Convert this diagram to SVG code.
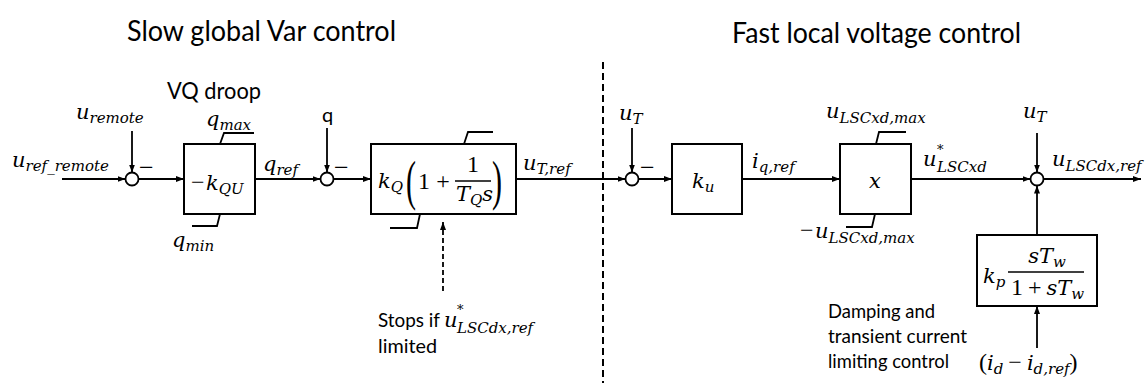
<svg xmlns="http://www.w3.org/2000/svg" width="1147" height="383" viewBox="0 0 1147 383">
<style>
.ln{fill:none;stroke:#000;stroke-width:1.8}
.bx{fill:#fff;stroke:#000;stroke-width:2}
.lim{fill:none;stroke:#000;stroke-width:1.8}
.sj{fill:#fff;stroke:#000;stroke-width:1.8}
.m{font-family:"DejaVu Serif",serif;font-style:italic;font-size:21px;fill:#000}
.s{font-size:15px}
.sup{font-size:13px}
.n{font-family:"Liberation Serif",serif;font-style:normal;font-size:24px;fill:#000}
.mn{font-family:"Liberation Serif",serif;font-size:26px;fill:#000}
.t{font-family:Lato,"Liberation Sans",sans-serif;font-size:20px;fill:#000}
.h{font-family:Lato,"Liberation Sans",sans-serif;font-size:28px;fill:#000}
.par{font-family:"Liberation Serif",serif;font-size:30px;fill:#000}
</style>
<defs>
<marker id="ah" viewBox="0 0 8 6" refX="8" refY="3" markerWidth="8" markerHeight="6" markerUnits="userSpaceOnUse" orient="auto">
<path d="M0,0 L8,3 L0,6 z" fill="#000"/>
</marker>
</defs>

<g id="titles">
<text class="h" x="127" y="41" textLength="269" lengthAdjust="spacingAndGlyphs">Slow global Var control</text>
<text class="h" x="732" y="43" textLength="289" lengthAdjust="spacingAndGlyphs">Fast local voltage control</text>
</g>

<g id="divider">
<line x1="603" y1="62" x2="603" y2="383" stroke="#000" stroke-width="2" stroke-dasharray="7 4"/>
</g>

<g id="connectors">
<line class="ln" x1="62" y1="179" x2="125.5" y2="179" marker-end="url(#ah)"/>
<line class="ln" x1="132" y1="131" x2="132" y2="172.5" marker-end="url(#ah)"/>
<line class="ln" x1="138.5" y1="179" x2="184" y2="179" marker-end="url(#ah)"/>
<line class="ln" x1="255" y1="179" x2="320.5" y2="179" marker-end="url(#ah)"/>
<line class="ln" x1="327" y1="128" x2="327" y2="172.5" marker-end="url(#ah)"/>
<line class="ln" x1="333.5" y1="179" x2="371" y2="179" marker-end="url(#ah)"/>
<line class="ln" x1="516" y1="179" x2="625.5" y2="179" marker-end="url(#ah)"/>
<line class="ln" x1="632" y1="128" x2="632" y2="172.5" marker-end="url(#ah)"/>
<line class="ln" x1="638.5" y1="179" x2="672" y2="179" marker-end="url(#ah)"/>
<line class="ln" x1="742" y1="179" x2="840" y2="179" marker-end="url(#ah)"/>
<line class="ln" x1="911" y1="179" x2="1030.5" y2="179" marker-end="url(#ah)"/>
<line class="ln" x1="1037" y1="133" x2="1037" y2="172.5" marker-end="url(#ah)"/>
<line class="ln" x1="1043.5" y1="179" x2="1141" y2="179" marker-end="url(#ah)"/>
<line class="ln" x1="1037" y1="235" x2="1037" y2="185.5" marker-end="url(#ah)"/>
<line class="ln" x1="1037" y1="348" x2="1037" y2="306" marker-end="url(#ah)"/>
<line class="ln" x1="443" y1="291" x2="443" y2="222" stroke-dasharray="5 3" marker-end="url(#ah)"/>
</g>

<g id="sum1">
<circle class="sj" cx="132" cy="179" r="6.5"/>
<text class="mn" x="139" y="176">−</text>
</g>
<g id="sum2">
<circle class="sj" cx="327" cy="179" r="6.5"/>
<text class="mn" x="334" y="176">−</text>
</g>
<g id="sum3">
<circle class="sj" cx="632" cy="179" r="6.5"/>
<text class="mn" x="640" y="176">−</text>
</g>
<g id="sum4">
<circle class="sj" cx="1037" cy="179" r="6.5"/>
</g>

<g id="signals">
<text class="m" x="12" y="167">u<tspan class="s" dy="4">ref_remote</tspan></text>
<text class="m" x="76" y="119">u<tspan class="s" dy="4">remote</tspan></text>
<text class="m" x="263" y="171">q<tspan class="s" dy="4">ref</tspan></text>
<text class="t" x="322" y="122">q</text>
<text class="m" x="523" y="170">u<tspan class="s" dy="4">T,ref</tspan></text>
<text class="m" x="619" y="120">u<tspan class="s" dy="4">T</tspan></text>
<text class="m" x="752" y="168">i<tspan class="s" dy="4">q,ref</tspan></text>
<text class="m" x="923" y="166">u</text>
<text class="m sup" x="937" y="154">*</text>
<text class="m s" x="937" y="172">LSCxd</text>
<text class="m" x="1023" y="118">u<tspan class="s" dy="4">T</tspan></text>
<text class="m" x="1052" y="166">u<tspan class="s" dy="5">LSCdx,ref</tspan></text>
<text class="m" x="979" y="370"><tspan class="n">(</tspan>i<tspan class="s" dy="4">d</tspan><tspan class="n" dx="5" dy="-4">−</tspan><tspan dx="5">i</tspan><tspan class="s" dy="4">d,ref</tspan><tspan class="n" dy="-4">)</tspan></text>
</g>

<g id="droop">
<text class="t" x="167" y="99" textLength="94" lengthAdjust="spacingAndGlyphs" style="font-size:23px">VQ droop</text>
<rect class="bx" x="184" y="144" width="71" height="70"/>
<polyline class="lim" points="220,144 224,133 254,133"/>
<polyline class="lim" points="192,226 217,226 220,214"/>
<text class="n" x="191" y="190">−</text>
<text class="m" x="206" y="190">k<tspan class="s" dy="4">QU</tspan></text>
<text class="m" x="206" y="126">q<tspan class="s" dy="4">max</tspan></text>
<text class="m" x="172" y="247">q<tspan class="s" dy="4">min</tspan></text>
</g>

<g id="pi">
<rect class="bx" x="371" y="144" width="145" height="70"/>
<polyline class="lim" points="464,144 468,132 493,132"/>
<polyline class="lim" points="390,228 417,228 420,214"/>
<text class="m" x="378" y="188">k<tspan class="s" dy="4">Q</tspan></text>
<text class="par" x="0" y="0" transform="translate(406,199) scale(1,1.8)">(</text>
<text class="n" x="424" y="189" text-anchor="middle">1</text>
<text class="n" x="443" y="189" text-anchor="middle">+</text>
<text class="n" x="473" y="172" text-anchor="middle">1</text>
<line x1="455" y1="181" x2="491" y2="181" stroke="#000" stroke-width="1.3"/>
<text class="m" x="456" y="201">T<tspan class="s" dy="4">Q</tspan><tspan dy="-4">s</tspan></text>
<text class="par" x="0" y="0" transform="translate(492,199) scale(1,1.8)">)</text>
</g>

<g id="stops">
<text class="t" x="378" y="327" textLength="62" lengthAdjust="spacingAndGlyphs">Stops if</text>
<text class="m" x="444" y="327">u</text>
<text class="m sup" x="457" y="314">*</text>
<text class="m s" x="457" y="333">LSCdx,ref</text>
<text class="t" x="378" y="353" textLength="59" lengthAdjust="spacingAndGlyphs">limited</text>
</g>

<g id="ku">
<rect class="bx" x="672" y="144" width="70" height="70"/>
<text class="m" x="692" y="188">k<tspan class="s" dy="4">u</tspan></text>
</g>

<g id="xlim">
<rect class="bx" x="840" y="144" width="71" height="70"/>
<polyline class="lim" points="876,144 879,132 906,132"/>
<polyline class="lim" points="846,227 872,227 875,214"/>
<text class="m" x="875" y="188" text-anchor="middle">x</text>
<text class="m" x="826" y="118">u<tspan class="s" dy="5">LSCxd,max</tspan></text>
<text class="n" x="800" y="238">−</text>
<text class="m" x="815" y="238">u<tspan class="s" dy="5">LSCxd,max</tspan></text>
</g>

<g id="damping">
<rect class="bx" x="977" y="235" width="120" height="71"/>
<text class="m" x="983" y="283">k<tspan class="s" dy="4">p</tspan></text>
<line x1="1008" y1="272" x2="1084" y2="272" stroke="#000" stroke-width="1.3"/>
<text class="m" x="1047" y="263" text-anchor="middle">sT<tspan class="s" dy="4">w</tspan></text>
<text class="m" x="1011" y="295"><tspan class="n">1</tspan><tspan class="n" dx="5">+</tspan><tspan dx="5">sT</tspan><tspan class="s" dy="4">w</tspan></text>
<text class="t" x="828" y="318" textLength="107" lengthAdjust="spacingAndGlyphs">Damping and</text>
<text class="t" x="828" y="343" textLength="139" lengthAdjust="spacingAndGlyphs">transient current</text>
<text class="t" x="828" y="368" textLength="121" lengthAdjust="spacingAndGlyphs">limiting control</text>
</g>
</svg>
